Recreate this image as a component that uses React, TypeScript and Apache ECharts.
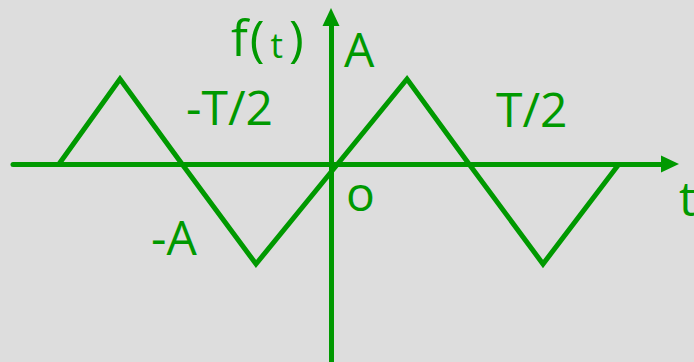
import React, { useEffect, useRef } from "react";
import * as echarts from "echarts";

// Waveform vertices (t, f(t))
const tValues = [-272, -211, -149, -75, 76, 138, 212, 288];
const fValues = [0, 85, 0, -100, 85, 0, -100, 0];

// Axis extents
const tMin = -318;
const tMax = 339;
const fMin = -198;
const fMax = 147;

const labelTexts = ["A", "-T/2", "T/2", "-A", "o", "t"];

const GREEN = "#009900";
const BG = "#dddddd";
const FONT = "'Open Sans', 'Noto Sans', sans-serif";

export default function App() {
  const ref = useRef<HTMLDivElement>(null);

  useEffect(() => {
    document.body.style.margin = "0";
    const chart = echarts.init(ref.current!, null, { renderer: "svg" });

    const pos: Record<string, [number, number, number]> = {
      A: [344, 48, 48],
      "-T/2": [186, 106, 48],
      "T/2": [496, 108, 48],
      "-A": [151, 236, 48],
      o: [346, 192, 48],
      t: [679, 197, 48],
    };

    const textEls = labelTexts.map((txt) => {
      const [x, y, size] = pos[txt];
      return {
        type: "text",
        x,
        y,
        silent: true,
        style: {
          text: txt,
          fill: GREEN,
          font: `${size}px ${FONT}`,
          verticalAlign: "middle",
        },
      };
    });

    const fLabel = {
      type: "text",
      x: 231,
      y: 37,
      silent: true,
      style: {
        text: "{f|f}{p|(}{t|t}{p|)}",
        fill: GREEN,
        font: `50px ${FONT}`,
        verticalAlign: "middle",
        rich: {
          f: { fontSize: 50, fontFamily: FONT, fill: GREEN, lineHeight: 50 },
          p: { fontSize: 50, fontFamily: FONT, fill: GREEN, lineHeight: 50, padding: [0, 2, 0, 2] },
          t: { fontSize: 35, fontFamily: FONT, fill: GREEN, lineHeight: 35, verticalAlign: "bottom", padding: [0, 4, 0, 4] },
        },
      },
    };

    const axisCommon = {
      type: "value",
      axisTick: { show: false },
      axisLabel: { show: false },
      splitLine: { show: false },
    };

    chart.setOption({
      animation: false,
      backgroundColor: BG,
      grid: { left: 13, right: 24, top: 17, bottom: 0 },
      xAxis: {
        ...axisCommon,
        min: tMin,
        max: tMax,
        axisLine: {
          show: true,
          onZero: true,
          symbol: ["none", "triangle"],
          symbolSize: [17, 18],
          lineStyle: { color: GREEN, width: 5 },
        },
      },
      yAxis: {
        ...axisCommon,
        min: fMin,
        max: fMax,
        axisLine: {
          show: true,
          onZero: true,
          symbol: ["none", "triangle"],
          symbolSize: [17, 18],
          lineStyle: { color: GREEN, width: 5 },
        },
      },
      series: [
        {
          type: "line",
          data: tValues.map((t, i) => [t, fValues[i]]),
          symbol: "none",
          silent: true,
          clip: false,
          lineStyle: { color: GREEN, width: 5, join: "miter" },
        },
      ],
      graphic: [fLabel, ...textEls],
    });

    return () => chart.dispose();
  }, []);

  return (
    <div
      ref={ref}
      style={{ position: "fixed", left: 0, top: 0, width: 694, height: 362 }}
    />
  );
}
